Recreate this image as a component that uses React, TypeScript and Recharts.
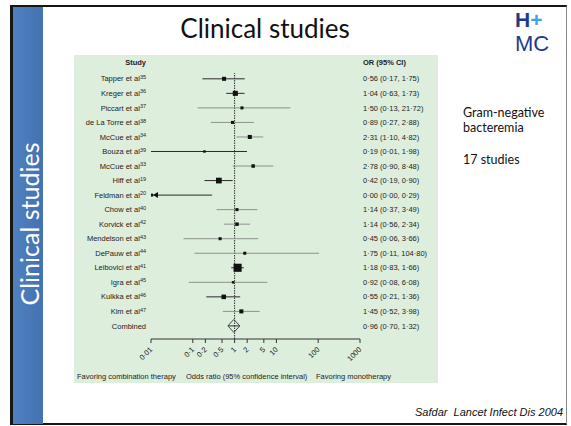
import { ScatterChart, Scatter, XAxis, YAxis, ErrorBar, ReferenceLine } from "recharts";

const studies = [
  "Tapper et al", "Kreger et al", "Piccart et al", "de La Torre et al", "McCue et al", "Bouza et al",
  "McCue et al", "Hiff et al", "Feldman et al", "Chow et al", "Korvick et al", "Mendelson et al",
  "DePauw et al", "Leibovici et al", "Igra et al", "Kulkka et al", "Kim et al", "Combined",
];
const refs = ["35", "36", "37", "38", "34", "39", "33", "19", "20", "40", "42", "43", "44", "41", "45", "46", "47", ""];
const oddsRatio = [0.56, 1.04, 1.5, 0.89, 2.31, 0.19, 2.78, 0.42, 0.0, 1.14, 1.14, 0.45, 1.75, 1.18, 0.92, 0.55, 1.45, 0.96];
const ciLow = [0.17, 0.63, 0.13, 0.27, 1.1, 0.01, 0.9, 0.19, 0.0, 0.37, 0.56, 0.06, 0.11, 0.83, 0.08, 0.21, 0.52, 0.7];
const ciHigh = [1.75, 1.73, 21.72, 2.88, 4.82, 1.98, 8.48, 0.9, 0.29, 3.49, 2.34, 3.66, 104.8, 1.66, 6.08, 1.36, 3.98, 1.32];
// relative study weight (drives square size)
const weights = [1.6, 2.5, 0.9, 0.9, 1.6, 0.6, 1.2, 3.2, 0.9, 0.9, 1.2, 0.9, 0.9, 6.4, 0.6, 2.0, 1.6, 0];
const xTicks = [0.01, 0.1, 0.2, 0.5, 1, 2, 5, 10, 100, 1000];

const X_MIN = 0.01;
const COMBINED = studies.length - 1;
const lightRows = [2, 3, 4, 6, 9, 10, 11, 12, 14, 16];

const dot = (v: number) => String(v).replace(".", "·");
const fmt = (v: number) => v.toFixed(2).replace(".", "·");

const rows = studies.map((name, i) => {
  const x = Math.max(oddsRatio[i], X_MIN);
  const lo = Math.max(ciLow[i], X_MIN);
  return {
    row: i,
    name,
    ref: refs[i],
    or: oddsRatio[i],
    x,
    w: weights[i],
    err: [x - lo, ciHigh[i] - x],
    label: `${fmt(oddsRatio[i])} (${fmt(ciLow[i])}, ${fmt(ciHigh[i])})`,
  };
});
const darkData = rows.filter((r) => !lightRows.includes(r.row));
const lightData = rows.filter((r) => lightRows.includes(r.row));

const FONT = "'Liberation Sans', Arial, sans-serif";

const Marker = (props: any) => {
  const { cx, cy, payload } = props;
  if (payload.row === COMBINED) {
    return (
      <polygon
        points={`${cx - 6},${cy} ${cx},${cy - 6.5} ${cx + 6},${cy} ${cx},${cy + 6.5}`}
        fill="none"
        stroke="#444"
        strokeWidth={1}
      />
    );
  }
  if (payload.or < X_MIN) {
    return (
      <g>
        <rect x={cx - 1} y={cy - 1.5} width={3} height={3} fill="#111" />
        <polygon points={`${cx + 2},${cy} ${cx + 7},${cy - 3} ${cx + 7},${cy + 3}`} fill="#111" />
      </g>
    );
  }
  const s = Math.sqrt(payload.w) * 3.2;
  return <rect x={cx - s / 2} y={cy - s / 2} width={s} height={s} fill="#111" />;
};

const StudyTick = (props: any) => {
  const { x, y, payload } = props;
  const r = rows[payload.value];
  if (!r) return null;
  return (
    <text x={x} y={y} dy="0.35em" textAnchor="end" fontSize={7.5} fill="#222" fontFamily={FONT}>
      <tspan>{r.name}</tspan>
      {r.ref && (
        <tspan dy={-2.5} fontSize={5.5}>
          {r.ref}
        </tspan>
      )}
    </text>
  );
};

const OrTick = (props: any) => {
  const { x, y, payload } = props;
  const r = rows[payload.value];
  if (!r) return null;
  return (
    <text x={x} y={y} dy="0.35em" textAnchor="start" fontSize={7.5} fill="#222" fontFamily={FONT}>
      {r.label}
    </text>
  );
};

const XTick = (props: any) => {
  const { x, y, payload } = props;
  const px = x + 2;
  const py = y + 5;
  return (
    <text
      x={px}
      y={py}
      textAnchor="end"
      fontSize={7.5}
      fill="#222"
      fontFamily={FONT}
      transform={`rotate(-45, ${px}, ${py})`}
    >
      {dot(payload.value)}
    </text>
  );
};

const abs = (left: number, top: number, extra: any = {}) => ({ position: "absolute" as const, left, top, ...extra });
const note = { fontFamily: FONT, fontSize: 7.5, color: "#222", whiteSpace: "nowrap" as const };

export default function App() {
  return (
    <div style={{ position: "absolute", left: 0, top: 0, width: 571, height: 426, background: "#fff", overflow: "hidden" }}>
      <div
        style={abs(10, 5, {
          width: 557,
          height: 420,
          boxSizing: "border-box",
          borderTop: "2px solid #161616",
          borderLeft: "3px solid #161616",
          borderBottom: "2px solid #161616",
          borderRight: "1px solid #8a8a8a",
        })}
      />
      <div style={abs(13, 7, { width: 30, height: 417, background: "linear-gradient(90deg, #4f80c0, #4372b2)" })} />
      <div
        style={abs(29, 224, {
          transform: "translate(-50%, -50%) rotate(-90deg)",
          color: "#fff",
          fontFamily: "Lato, 'Open Sans', sans-serif",
          fontSize: 25,
          whiteSpace: "nowrap",
        })}
      >
        Clinical studies
      </div>

      <div style={abs(265, 28, { transform: "translate(-50%, -50%)", fontFamily: "Lato, sans-serif", fontSize: 26, color: "#111", whiteSpace: "nowrap" })}>
        Clinical studies
      </div>

      <div style={abs(515, 8, { fontFamily: FONT, fontSize: 21, lineHeight: "24px", width: 50 })}>
        <div style={{ fontWeight: 700, whiteSpace: "nowrap" }}>
          <span style={{ color: "#1d3b8c" }}>H</span>
          <span style={{ color: "#3fa3e3" }}>+</span>
        </div>
        <div style={{ color: "#1d3b8c", whiteSpace: "nowrap", fontSize: 22 }}>MC</div>
      </div>

      <div style={abs(74, 55, { width: 364, height: 328, background: "#deeedd" })}>
        <div style={abs(0, 3, { ...note, width: 72, textAlign: "right", fontWeight: 700 })}>Study</div>
        <div style={abs(289, 3, { ...note, fontWeight: 700 })}>OR (95% CI)</div>

        <ScatterChart width={364} height={328} margin={{ top: 18, right: 0, bottom: 14, left: 0 }}>
          <XAxis
            type="number"
            dataKey="x"
            scale="log"
            domain={[0.01, 1000]}
            ticks={xTicks}
            interval={0}
            allowDataOverflow
            height={30}
            tickSize={4}
            stroke="#333"
            tick={<XTick />}
          />
          <YAxis
            type="number"
            dataKey="row"
            domain={[-0.4, 17.9]}
            reversed
            ticks={rows.map((r) => r.row)}
            interval={0}
            width={77}
            axisLine={false}
            tickLine={false}
            tickSize={0}
            tickMargin={5}
            tick={<StudyTick />}
          />
          <YAxis
            yAxisId="r"
            orientation="right"
            type="number"
            dataKey="row"
            domain={[-0.4, 17.9]}
            reversed
            ticks={rows.map((r) => r.row)}
            interval={0}
            width={78}
            axisLine={false}
            tickLine={false}
            tickSize={0}
            tickMargin={3}
            tick={<OrTick />}
          />
          <ReferenceLine x={1} stroke="#333" strokeDasharray="1.5 1" />
          <Scatter data={lightData} shape={<Marker />} isAnimationActive={false}>
            <ErrorBar dataKey="err" direction="x" width={0} stroke="#8c918c" strokeWidth={1} />
          </Scatter>
          <Scatter data={darkData} shape={<Marker />} isAnimationActive={false}>
            <ErrorBar dataKey="err" direction="x" width={0} stroke="#2a2a2a" strokeWidth={1} />
          </Scatter>
          <Scatter data={rows} yAxisId="r" shape={() => <g />} isAnimationActive={false} />
        </ScatterChart>

        <div style={abs(3, 317, note)}>Favoring combination therapy</div>
        <div style={abs(112, 317, note)}>Odds ratio (95% confidence interval)</div>
        <div style={abs(242, 317, note)}>Favoring monotherapy</div>
      </div>

      <div style={abs(463, 105, { fontFamily: "Lato, sans-serif", fontSize: 12.5, color: "#111", lineHeight: "15px" })}>
        Gram-negative
        <br />
        bacteremia
      </div>
      <div style={abs(463, 152, { fontFamily: "Lato, sans-serif", fontSize: 12.5, color: "#111" })}>17 studies</div>

      <div style={abs(563, 406, { transform: "translateX(-100%)", fontFamily: FONT, fontStyle: "italic", fontSize: 11, color: "#111", whiteSpace: "nowrap" })}>
        Safdar&nbsp; Lancet Infect Dis 2004
      </div>
    </div>
  );
}
